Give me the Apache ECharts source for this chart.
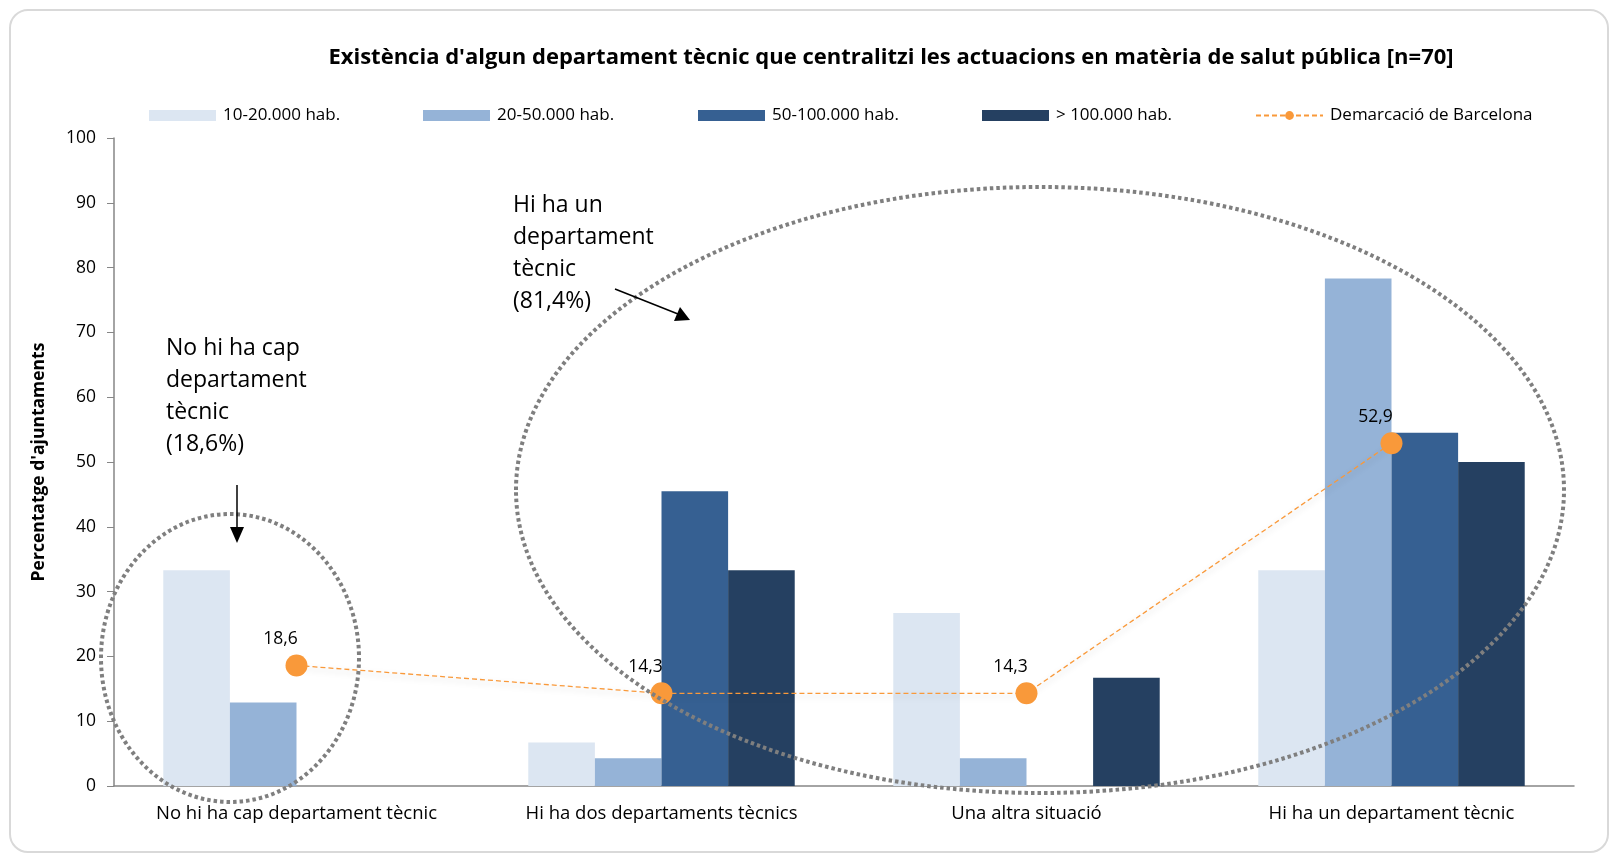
<!DOCTYPE html>
<html>
<head>
<meta charset="utf-8">
<script src="https://cdn.jsdelivr.net/npm/echarts@6/dist/echarts.min.js"></script>
<style>
html,body{margin:0;padding:0;background:#fff;}
#c{width:1610px;height:856px;}
</style>
</head>
<body>
<div id="c"></div>
<script>
const categories = ['No hi ha cap departament tècnic', 'Hi ha dos departaments tècnics', 'Una altra situació', 'Hi ha un departament tècnic'];
const s10_20 = [33.3, 6.7, 26.7, 33.3];
const s20_50 = [12.9, 4.3, 4.3, 78.3];
const s50_100 = [0, 45.5, 0, 54.5];
const s100 = [0, 33.3, 16.7, 50.0];
const barcelona = [18.6, 14.3, 14.3, 52.9];
const seriesNames = ['10-20.000 hab.', '20-50.000 hab.', '50-100.000 hab.', '> 100.000 hab.', 'Demarcació de Barcelona'];
const yTicks = {min: 0, max: 100, interval: 10};

const colors = ['#DCE6F2', '#95B3D7', '#366092', '#254061', '#F9993A'];
const FONT = 'Open Sans';

const chart = echarts.init(document.getElementById('c'));

function barSeries(i, data) {
  return {
    name: seriesNames[i], type: 'bar', data: data,
    barGap: '0%', barCategoryGap: '27%',
    itemStyle: {color: colors[i]},
    z: 2
  };
}

const legendLefts = [144, 418, 693, 977, 1250];
const legends = seriesNames.map((n, i) => ({
  data: [i < 4 ? {name: n, icon: 'rect'} : {name: n}], left: legendLefts[i], top: 102,
  itemWidth: 67, itemHeight: 11, itemGap: 0,
  textStyle: {fontFamily: FONT, fontSize: 17, color: '#000', padding: [0, 0, 0, 2]},
  selectedMode: false
}));

const option = {
  animation: false,
  title: {
    text: "Existència d'algun departament tècnic que centralitzi les actuacions en matèria de salut pública [n=70]",
    left: 886, top: 42, textAlign: 'center',
    textStyle: {fontFamily: FONT, fontWeight: 'bold', fontSize: 22, color: '#000'}
  },
  legend: legends,
  grid: {left: 114, right: 36, top: 138, bottom: 70},
  xAxis: {
    type: 'category', data: categories,
    axisLine: {lineStyle: {color: '#868686', width: 1.5}},
    axisTick: {show: false},
    axisLabel: {interval: 0, fontFamily: FONT, fontSize: 18.5, color: '#000', margin: 18}
  },
  yAxis: {
    type: 'value', min: yTicks.min, max: yTicks.max, interval: yTicks.interval,
    name: "Percentatge d'ajuntaments", nameLocation: 'middle', nameGap: 66, nameRotate: 90,
    nameTextStyle: {fontFamily: FONT, fontWeight: 'bold', fontSize: 17.5, color: '#000'},
    axisLine: {show: true, lineStyle: {color: '#868686', width: 1.5}},
    axisTick: {show: true, length: 7, lineStyle: {color: '#868686'}},
    splitLine: {show: false},
    axisLabel: {fontFamily: FONT, fontSize: 17.5, color: '#000', margin: 18}
  },
  series: [
    barSeries(0, s10_20),
    barSeries(1, s20_50),
    barSeries(2, s50_100),
    barSeries(3, s100),
    {
      name: seriesNames[4], type: 'line', data: barcelona,
      symbol: 'circle', symbolSize: 22,
      itemStyle: {color: colors[4]},
      lineStyle: {color: colors[4], width: 1.3, type: [5, 3],
        shadowBlur: 6, shadowColor: 'rgba(0,0,0,0.22)', shadowOffsetY: 3},
      label: {show: true, position: 'top', offset: [-16, -1], fontFamily: FONT, fontSize: 17.5, color: '#000',
        formatter: p => p.value.toFixed(1).replace('.', ',')},
      z: 5
    }
  ],
  graphic: [
    {type: 'rect', shape: {x: 10, y: 10, width: 1598, height: 842, r: 18},
     style: {fill: 'none', stroke: '#D9D9D9', lineWidth: 2}, z: -10, silent: true},
    {type: 'ellipse', shape: {cx: 230, cy: 658, rx: 129, ry: 144},
     style: {fill: 'none', stroke: '#7F7F7F', lineWidth: 4, lineDash: [3.5, 3]}, z: 100},
    {type: 'ellipse', shape: {cx: 1040, cy: 490, rx: 524, ry: 303},
     style: {fill: 'none', stroke: '#7F7F7F', lineWidth: 4, lineDash: [3.5, 3]}, z: 100},
    {type: 'text', left: 166, top: 332, z: 100,
     style: {text: 'No hi ha cap\ndepartament\ntècnic\n(18,6%)', fontFamily: FONT, fontSize: 23, lineHeight: 32, fill: '#000'}},
    {type: 'text', left: 513, top: 189, z: 100,
     style: {text: 'Hi ha un\ndepartament\ntècnic\n(81,4%)', fontFamily: FONT, fontSize: 23, lineHeight: 32, fill: '#000'}},
    {type: 'line', shape: {x1: 237, y1: 485, x2: 237, y2: 530}, style: {stroke: '#000', lineWidth: 1.5}, z: 100},
    {type: 'polygon', shape: {points: [[230, 527], [244, 527], [237, 543]]}, style: {fill: '#000'}, z: 100},
    {type: 'line', shape: {x1: 615, y1: 289, x2: 678, y2: 314}, style: {stroke: '#000', lineWidth: 1.5}, z: 100},
    {type: 'polygon', shape: {points: [[690, 320], [674, 321], [680, 307]]}, style: {fill: '#000'}, z: 100}
  ]
};
chart.setOption(option);
</script>
</body>
</html>
